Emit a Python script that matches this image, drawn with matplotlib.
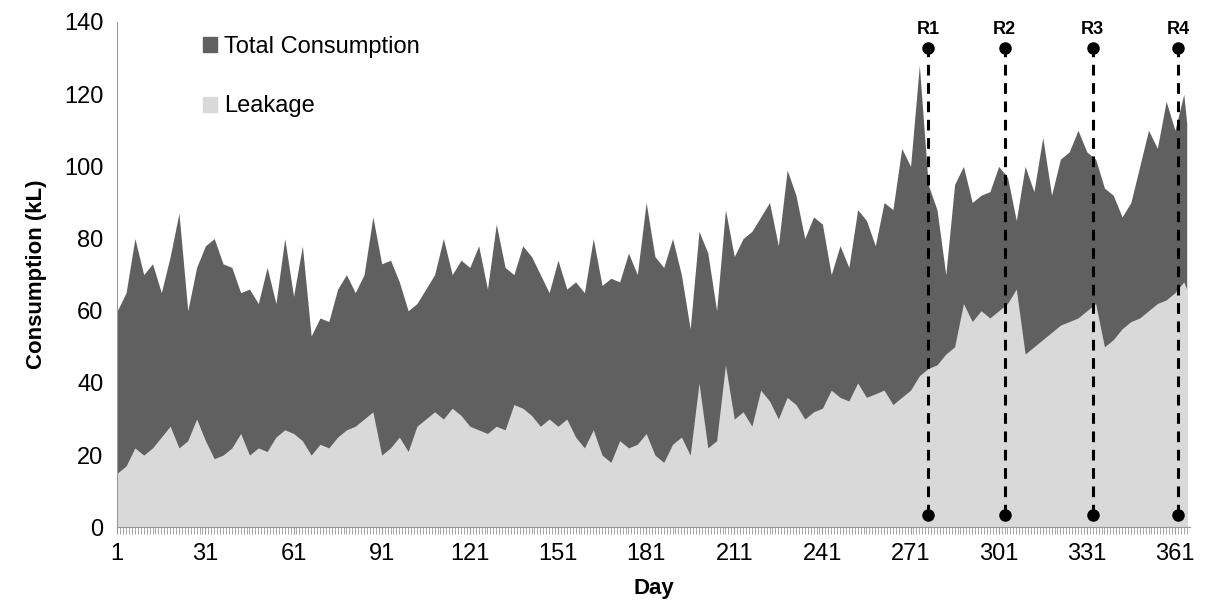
import matplotlib.pyplot as plt
from matplotlib.patches import Patch

days = list(range(1, 365, 3)) + [365]
total = [60, 65, 80, 70, 73, 65, 75, 87, 60, 72, 78, 80, 73, 72, 65, 66, 62, 72, 62, 80,
         64, 78, 53, 58, 57, 66, 70, 65, 70, 86, 73, 74, 68, 60, 62, 66, 70, 80, 70, 74,
         72, 78, 66, 84, 72, 70, 78, 75, 70, 65, 74, 66, 68, 65, 80, 67, 69, 68, 76, 70,
         90, 75, 72, 80, 70, 55, 82, 76, 60, 88, 75, 80, 82, 86, 90, 78, 99, 92, 80, 86,
         84, 70, 78, 72, 88, 85, 78, 90, 88, 105, 100, 128, 95, 88, 70, 95, 100, 90, 92, 93,
         100, 97, 85, 100, 93, 108, 92, 102, 104, 110, 104, 102, 94, 92, 86, 90, 100, 110, 105, 118,
         110, 120, 112]
leakage = [15, 17, 22, 20, 22, 25, 28, 22, 24, 30, 24, 19, 20, 22, 26, 20, 22, 21, 25, 27,
           26, 24, 20, 23, 22, 25, 27, 28, 30, 32, 20, 22, 25, 21, 28, 30, 32, 30, 33, 31,
           28, 27, 26, 28, 27, 34, 33, 31, 28, 30, 28, 30, 25, 22, 27, 20, 18, 24, 22, 23,
           26, 20, 18, 23, 25, 20, 40, 22, 24, 45, 30, 32, 28, 38, 35, 30, 36, 34, 30, 32,
           33, 38, 36, 35, 40, 36, 37, 38, 34, 36, 38, 42, 44, 45, 48, 50, 62, 57, 60, 58,
           60, 62, 66, 48, 50, 52, 54, 56, 57, 58, 60, 62, 50, 52, 55, 57, 58, 60, 62, 63,
           65, 68, 66]
release_days = [277, 303, 333, 362]
release_labels = ["R1", "R2", "R3", "R4"]
xtick_days = list(range(1, 366, 30))

dark = "#606060"
light = "#d9d9d9"
font = "Liberation Sans"

fig = plt.figure(figsize=(12.09, 6.11), dpi=100)
ax = fig.add_axes([0.097, 0.137, 0.887, 0.827])

ax.fill_between(days, 0, total, color=dark, lw=0)
ax.fill_between(days, 0, leakage, color=light, lw=0)

for d, lab in zip(release_days, release_labels):
    ax.plot([d, d], [3.3, 132.8], color="black", ls="--", lw=2.2, dashes=(3.5, 2.5))
    ax.plot([d, d], [3.3, 132.8], "o", color="black", ms=8)
    ax.text(d, 135.5, lab, ha="center", va="bottom", fontsize=13, fontweight="bold",
            family=font)

ax.set_xlim(1, 366)
ax.set_ylim(0, 140)
ax.set_yticks(range(0, 141, 20))
ax.set_xticks(xtick_days)
ax.set_xticks(range(1, 366), minor=True)
ax.tick_params(axis="x", which="minor", length=5, color="#999999", width=0.6)
ax.tick_params(axis="x", which="major", length=5, color="#999999", pad=6)
ax.tick_params(axis="y", length=0, pad=10)
ax.tick_params(labelsize=17)
for t in ax.get_xticklabels() + ax.get_yticklabels():
    t.set_family(font)
for s in ["top", "right"]:
    ax.spines[s].set_visible(False)
for s in ["left", "bottom"]:
    ax.spines[s].set_color("#999999")

ax.set_xlabel("Day", fontsize=16, fontweight="bold", family=font, labelpad=10)
ax.set_ylabel("Consumption (kL)", fontsize=16, fontweight="bold", family=font, labelpad=12)

handles = [Patch(color=dark), Patch(color=light)]
ax.legend(handles, ["Total Consumption", "Leakage"], loc="upper left",
          bbox_to_anchor=(0.06, 1.015), frameon=False, handlelength=0.6, handleheight=0.6,
          handletextpad=0.3, labelspacing=1.6, prop={"family": font, "size": 17})

fig.savefig("out.png", dpi=100)
